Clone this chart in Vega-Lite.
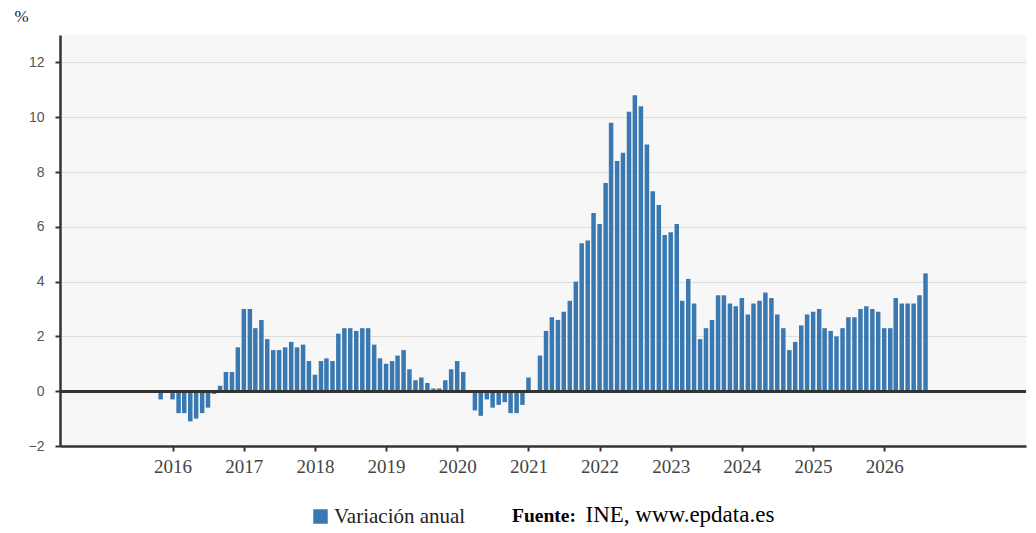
{
  "$schema": "https://vega.github.io/schema/vega-lite/v6.json",
  "width": 966,
  "height": 411,
  "autosize": {"type": "none"},
  "padding": {"left": 60, "top": 35, "right": 10, "bottom": 87},
  "background": "#ffffff",
  "data": {
    "values": [
      {"fecha": "2015-11-01", "valor": -0.3}, {"fecha": "2015-12-01", "valor": 0.0},
      {"fecha": "2016-01-01", "valor": -0.3}, {"fecha": "2016-02-01", "valor": -0.8}, {"fecha": "2016-03-01", "valor": -0.8},
      {"fecha": "2016-04-01", "valor": -1.1}, {"fecha": "2016-05-01", "valor": -1.0}, {"fecha": "2016-06-01", "valor": -0.8},
      {"fecha": "2016-07-01", "valor": -0.6}, {"fecha": "2016-08-01", "valor": -0.1}, {"fecha": "2016-09-01", "valor": 0.2},
      {"fecha": "2016-10-01", "valor": 0.7}, {"fecha": "2016-11-01", "valor": 0.7}, {"fecha": "2016-12-01", "valor": 1.6},
      {"fecha": "2017-01-01", "valor": 3.0}, {"fecha": "2017-02-01", "valor": 3.0}, {"fecha": "2017-03-01", "valor": 2.3},
      {"fecha": "2017-04-01", "valor": 2.6}, {"fecha": "2017-05-01", "valor": 1.9}, {"fecha": "2017-06-01", "valor": 1.5},
      {"fecha": "2017-07-01", "valor": 1.5}, {"fecha": "2017-08-01", "valor": 1.6}, {"fecha": "2017-09-01", "valor": 1.8},
      {"fecha": "2017-10-01", "valor": 1.6}, {"fecha": "2017-11-01", "valor": 1.7}, {"fecha": "2017-12-01", "valor": 1.1},
      {"fecha": "2018-01-01", "valor": 0.6}, {"fecha": "2018-02-01", "valor": 1.1}, {"fecha": "2018-03-01", "valor": 1.2},
      {"fecha": "2018-04-01", "valor": 1.1}, {"fecha": "2018-05-01", "valor": 2.1}, {"fecha": "2018-06-01", "valor": 2.3},
      {"fecha": "2018-07-01", "valor": 2.3}, {"fecha": "2018-08-01", "valor": 2.2}, {"fecha": "2018-09-01", "valor": 2.3},
      {"fecha": "2018-10-01", "valor": 2.3}, {"fecha": "2018-11-01", "valor": 1.7}, {"fecha": "2018-12-01", "valor": 1.2},
      {"fecha": "2019-01-01", "valor": 1.0}, {"fecha": "2019-02-01", "valor": 1.1}, {"fecha": "2019-03-01", "valor": 1.3},
      {"fecha": "2019-04-01", "valor": 1.5}, {"fecha": "2019-05-01", "valor": 0.8}, {"fecha": "2019-06-01", "valor": 0.4},
      {"fecha": "2019-07-01", "valor": 0.5}, {"fecha": "2019-08-01", "valor": 0.3}, {"fecha": "2019-09-01", "valor": 0.1},
      {"fecha": "2019-10-01", "valor": 0.1}, {"fecha": "2019-11-01", "valor": 0.4}, {"fecha": "2019-12-01", "valor": 0.8},
      {"fecha": "2020-01-01", "valor": 1.1}, {"fecha": "2020-02-01", "valor": 0.7}, {"fecha": "2020-03-01", "valor": 0.0},
      {"fecha": "2020-04-01", "valor": -0.7}, {"fecha": "2020-05-01", "valor": -0.9}, {"fecha": "2020-06-01", "valor": -0.3},
      {"fecha": "2020-07-01", "valor": -0.6}, {"fecha": "2020-08-01", "valor": -0.5}, {"fecha": "2020-09-01", "valor": -0.4},
      {"fecha": "2020-10-01", "valor": -0.8}, {"fecha": "2020-11-01", "valor": -0.8}, {"fecha": "2020-12-01", "valor": -0.5},
      {"fecha": "2021-01-01", "valor": 0.5}, {"fecha": "2021-02-01", "valor": 0.0}, {"fecha": "2021-03-01", "valor": 1.3},
      {"fecha": "2021-04-01", "valor": 2.2}, {"fecha": "2021-05-01", "valor": 2.7}, {"fecha": "2021-06-01", "valor": 2.6},
      {"fecha": "2021-07-01", "valor": 2.9}, {"fecha": "2021-08-01", "valor": 3.3}, {"fecha": "2021-09-01", "valor": 4.0},
      {"fecha": "2021-10-01", "valor": 5.4}, {"fecha": "2021-11-01", "valor": 5.5}, {"fecha": "2021-12-01", "valor": 6.5},
      {"fecha": "2022-01-01", "valor": 6.1}, {"fecha": "2022-02-01", "valor": 7.6}, {"fecha": "2022-03-01", "valor": 9.8},
      {"fecha": "2022-04-01", "valor": 8.4}, {"fecha": "2022-05-01", "valor": 8.7}, {"fecha": "2022-06-01", "valor": 10.2},
      {"fecha": "2022-07-01", "valor": 10.8}, {"fecha": "2022-08-01", "valor": 10.4}, {"fecha": "2022-09-01", "valor": 9.0},
      {"fecha": "2022-10-01", "valor": 7.3}, {"fecha": "2022-11-01", "valor": 6.8}, {"fecha": "2022-12-01", "valor": 5.7},
      {"fecha": "2023-01-01", "valor": 5.8}, {"fecha": "2023-02-01", "valor": 6.1}, {"fecha": "2023-03-01", "valor": 3.3},
      {"fecha": "2023-04-01", "valor": 4.1}, {"fecha": "2023-05-01", "valor": 3.2}, {"fecha": "2023-06-01", "valor": 1.9},
      {"fecha": "2023-07-01", "valor": 2.3}, {"fecha": "2023-08-01", "valor": 2.6}, {"fecha": "2023-09-01", "valor": 3.5},
      {"fecha": "2023-10-01", "valor": 3.5}, {"fecha": "2023-11-01", "valor": 3.2}, {"fecha": "2023-12-01", "valor": 3.1},
      {"fecha": "2024-01-01", "valor": 3.4}, {"fecha": "2024-02-01", "valor": 2.8}, {"fecha": "2024-03-01", "valor": 3.2},
      {"fecha": "2024-04-01", "valor": 3.3}, {"fecha": "2024-05-01", "valor": 3.6}, {"fecha": "2024-06-01", "valor": 3.4},
      {"fecha": "2024-07-01", "valor": 2.8}, {"fecha": "2024-08-01", "valor": 2.3}, {"fecha": "2024-09-01", "valor": 1.5},
      {"fecha": "2024-10-01", "valor": 1.8}, {"fecha": "2024-11-01", "valor": 2.4}, {"fecha": "2024-12-01", "valor": 2.8},
      {"fecha": "2025-01-01", "valor": 2.9}, {"fecha": "2025-02-01", "valor": 3.0}, {"fecha": "2025-03-01", "valor": 2.3},
      {"fecha": "2025-04-01", "valor": 2.2}, {"fecha": "2025-05-01", "valor": 2.0}, {"fecha": "2025-06-01", "valor": 2.3},
      {"fecha": "2025-07-01", "valor": 2.7}, {"fecha": "2025-08-01", "valor": 2.7}, {"fecha": "2025-09-01", "valor": 3.0},
      {"fecha": "2025-10-01", "valor": 3.1}, {"fecha": "2025-11-01", "valor": 3.0}, {"fecha": "2025-12-01", "valor": 2.9},
      {"fecha": "2026-01-01", "valor": 2.3}, {"fecha": "2026-02-01", "valor": 2.3}, {"fecha": "2026-03-01", "valor": 3.4},
      {"fecha": "2026-04-01", "valor": 3.2}, {"fecha": "2026-05-01", "valor": 3.2}, {"fecha": "2026-06-01", "valor": 3.2},
      {"fecha": "2026-07-01", "valor": 3.5}, {"fecha": "2026-08-01", "valor": 4.3}
    ]
  },
  "layer": [
    {
      "mark": {"type": "bar", "width": 4.5},
      "encoding": {
        "x": {
          "field": "fecha",
          "type": "temporal",
          "scale": {
            "type": "utc",
            "domain": [
              {"year": 2014, "month": 6, "date": 28, "utc": true},
              {"year": 2027, "month": 12, "date": 4, "utc": true}
            ]
          },
          "axis": {
            "title": "INE, www.epdata.es",
            "titleFont": "Liberation Serif",
            "titleFontSize": 23,
            "titleFontWeight": "normal",
            "titleColor": "#000000",
            "titleAlign": "left",
            "titleAnchor": "start",
            "titleBaseline": "alphabetic",
            "titleX": 525,
            "titleY": 75,
            "format": "%Y",
            "values": [
              {"year": 2016, "month": 1, "date": 1, "utc": true},
              {"year": 2017, "month": 1, "date": 1, "utc": true},
              {"year": 2018, "month": 1, "date": 1, "utc": true},
              {"year": 2019, "month": 1, "date": 1, "utc": true},
              {"year": 2020, "month": 1, "date": 1, "utc": true},
              {"year": 2021, "month": 1, "date": 1, "utc": true},
              {"year": 2022, "month": 1, "date": 1, "utc": true},
              {"year": 2023, "month": 1, "date": 1, "utc": true},
              {"year": 2024, "month": 1, "date": 1, "utc": true},
              {"year": 2025, "month": 1, "date": 1, "utc": true},
              {"year": 2026, "month": 1, "date": 1, "utc": true}
            ],
            "grid": false,
            "labelFont": "Liberation Serif",
            "labelFontSize": 19,
            "labelColor": "#444444",
            "labelPadding": 6,
            "labelFlush": false,
            "tickSize": 5,
            "tickWidth": 2,
            "tickColor": "#333333",
            "domainColor": "#333333",
            "domainWidth": 2.5
          }
        },
        "y": {
          "field": "valor",
          "type": "quantitative",
          "scale": {"domain": [-2, 13], "nice": false, "zero": false},
          "axis": {
            "title": "%",
            "titleAngle": 0,
            "titleAlign": "center",
            "titleBaseline": "alphabetic",
            "titleX": -39,
            "titleY": -14,
            "titleFont": "Liberation Serif",
            "titleFontSize": 17,
            "titleFontWeight": "normal",
            "titleColor": "#222222",
            "values": [-2, 0, 2, 4, 6, 8, 10, 12],
            "labelFont": "Liberation Sans",
            "labelFontSize": 14,
            "labelColor": "#555555",
            "labelPadding": 11,
            "tickSize": 5,
            "tickWidth": 2,
            "tickColor": "#333333",
            "domainColor": "#333333",
            "domainWidth": 2.5,
            "gridColor": "#dddddd",
            "gridWidth": 1
          }
        },
        "color": {
          "datum": "Variación anual",
          "type": "nominal",
          "scale": {"range": ["#3a78b1"]},
          "legend": {
            "orient": "none",
            "legendX": 250,
            "legendY": 471,
            "padding": 0,
            "title": "Fuente:",
            "titleOrient": "right",
            "titlePadding": 47,
            "titleFont": "Liberation Serif",
            "titleFontSize": 19.5,
            "titleFontWeight": "bold",
            "titleColor": "#000000",
            "titleBaseline": "middle",
            "symbolType": "square",
            "symbolSize": 210,
            "symbolStrokeWidth": 0,
            "labelFont": "Liberation Serif",
            "labelFontSize": 21,
            "labelColor": "#222222",
            "labelOffset": 3
          }
        }
      }
    },
    {
      "mark": {"type": "rule", "color": "#333333", "strokeWidth": 2.5},
      "encoding": {"y": {"datum": 0}}
    }
  ],
  "config": {
    "view": {"fill": "#f7f7f7", "stroke": null}
  }
}
